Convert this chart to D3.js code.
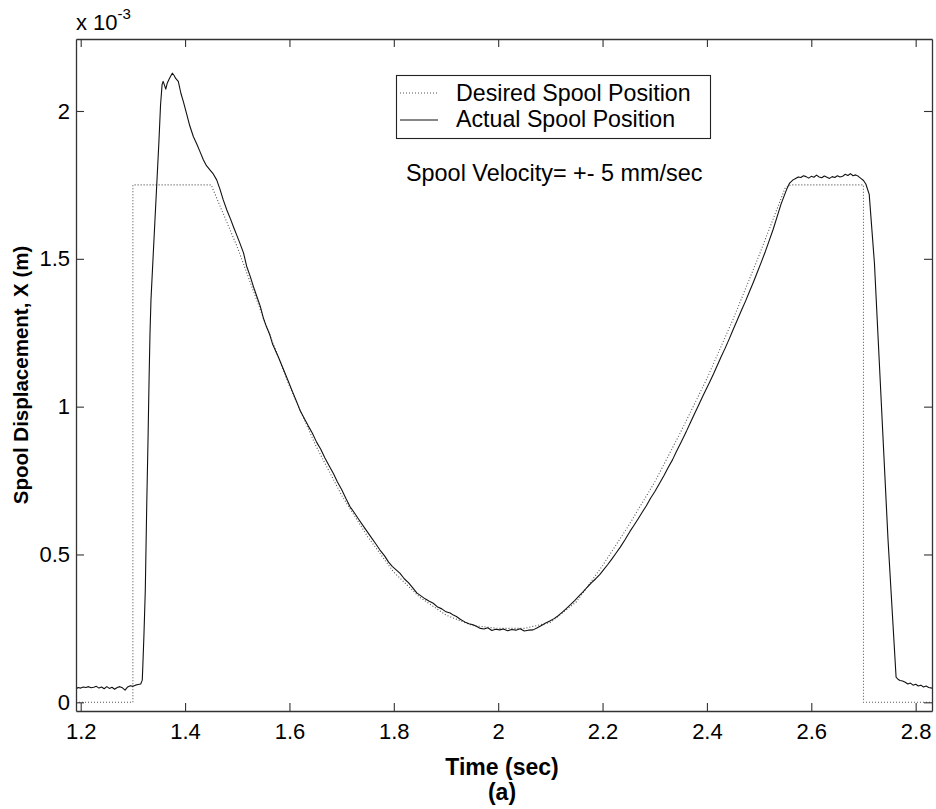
<!DOCTYPE html>
<html>
<head>
<meta charset="utf-8">
<script src="https://cdn.jsdelivr.net/npm/d3@7"></script>
<style>
  html, body { margin: 0; padding: 0; background: #fff; }
  svg { display: block; }
  text { font-family: "Liberation Sans", Arial, sans-serif; fill: #000; }
</style>
</head>
<body>
<svg id="chart" width="936" height="809"></svg>
<script>
// ---- data (time in s, displacement in units of 1e-3 m) ----
const xTicks = [1.2, 1.4, 1.6, 1.8, 2.0, 2.2, 2.4, 2.6, 2.8];
const xTickLabels = ["1.2", "1.4", "1.6", "1.8", "2", "2.2", "2.4", "2.6", "2.8"];
const yTicks = [0, 0.5, 1, 1.5, 2];
const yTickLabels = ["0", "0.5", "1", "1.5", "2"];
const xLim = [1.191, 2.8313];
const yLim = [-0.0294, 2.2435];

// Desired spool position: [time, displacement]
const desiredPoints = [
  [1.191, 0], [1.3, 0], [1.3, 1.75], [1.45, 1.75], [1.50, 1.54], [1.55, 1.30], [1.60, 1.07],
  [1.65, 0.87], [1.70, 0.70], [1.75, 0.56], [1.80, 0.44], [1.85, 0.355], [1.90, 0.295],
  [1.95, 0.26], [2.00, 0.25], [2.05, 0.25], [2.10, 0.27], [2.15, 0.34], [2.20, 0.462],
  [2.25, 0.598], [2.30, 0.745], [2.35, 0.915], [2.40, 1.095], [2.45, 1.295], [2.50, 1.512],
  [2.55, 1.74], [2.56, 1.75], [2.70, 1.75], [2.70, 0], [2.8313, 0]
];

// Actual spool position: [time, displacement]
const actualPoints = [
  [1.191, 0.045], [1.195, 0.050], [1.200, 0.048], [1.205, 0.052], [1.210, 0.050], [1.215, 0.053],
  [1.220, 0.049], [1.225, 0.051], [1.230, 0.054], [1.235, 0.048], [1.240, 0.052], [1.245, 0.046],
  [1.250, 0.053], [1.255, 0.047], [1.260, 0.051], [1.265, 0.044], [1.270, 0.050], [1.275, 0.053],
  [1.280, 0.049], [1.285, 0.041], [1.290, 0.052], [1.295, 0.056], [1.300, 0.054], [1.305, 0.058],
  [1.310, 0.060], [1.315, 0.062], [1.318, 0.075], [1.319, 0.12], [1.3213, 0.233], [1.3238, 0.38],
  [1.3265, 0.662], [1.329, 0.887], [1.331, 1.09], [1.3328, 1.248], [1.3347, 1.362], [1.338, 1.48],
  [1.342, 1.62], [1.346, 1.76], [1.350, 1.90], [1.353, 2.02], [1.356, 2.09], [1.358, 2.10],
  [1.361, 2.085], [1.363, 2.074], [1.366, 2.095], [1.370, 2.11], [1.3755, 2.128], [1.379, 2.12],
  [1.382, 2.11], [1.387, 2.10], [1.392, 2.06], [1.397, 2.03], [1.403, 1.99], [1.409, 1.95],
  [1.416, 1.913], [1.422, 1.89], [1.428, 1.865], [1.435, 1.835], [1.441, 1.815], [1.448, 1.80],
  [1.454, 1.787], [1.4606, 1.767], [1.467, 1.735], [1.473, 1.70], [1.480, 1.665], [1.487, 1.635],
  [1.493, 1.607], [1.499, 1.58], [1.505, 1.553], [1.512, 1.52], [1.518, 1.475], [1.525, 1.44],
  [1.531, 1.406], [1.537, 1.375], [1.544, 1.34], [1.550, 1.30], [1.556, 1.27], [1.562, 1.245],
  [1.568, 1.21], [1.5786, 1.169], [1.590, 1.12], [1.598, 1.085], [1.606, 1.05], [1.613, 1.02],
  [1.620, 0.989], [1.628, 0.962], [1.636, 0.935], [1.644, 0.91], [1.652, 0.88], [1.660, 0.856],
  [1.668, 0.826], [1.676, 0.80], [1.684, 0.775], [1.692, 0.745], [1.700, 0.72], [1.708, 0.69],
  [1.716, 0.662], [1.724, 0.642], [1.732, 0.621], [1.740, 0.60], [1.748, 0.58], [1.757, 0.557],
  [1.765, 0.537], [1.7735, 0.515], [1.782, 0.496], [1.790, 0.474], [1.797, 0.46], [1.805, 0.447],
  [1.812, 0.436], [1.820, 0.418], [1.828, 0.405], [1.836, 0.388], [1.844, 0.37], [1.852, 0.36],
  [1.860, 0.35], [1.868, 0.342], [1.8756, 0.335], [1.884, 0.322], [1.892, 0.316], [1.900, 0.306],
  [1.908, 0.302], [1.914, 0.295], [1.920, 0.29], [1.928, 0.28], [1.936, 0.272], [1.944, 0.266],
  [1.952, 0.262], [1.959, 0.256], [1.966, 0.25], [1.973, 0.248], [1.980, 0.252], [1.988, 0.243],
  [1.995, 0.247], [2.003, 0.245], [2.010, 0.248], [2.018, 0.242], [2.026, 0.246], [2.034, 0.244],
  [2.042, 0.249], [2.050, 0.241], [2.058, 0.244], [2.067, 0.245], [2.075, 0.252], [2.083, 0.26],
  [2.091, 0.268], [2.099, 0.275], [2.107, 0.283], [2.115, 0.293], [2.123, 0.305], [2.131, 0.318],
  [2.139, 0.331], [2.147, 0.345], [2.155, 0.36], [2.163, 0.374], [2.171, 0.39], [2.179, 0.405],
  [2.187, 0.418], [2.195, 0.433], [2.2014, 0.447], [2.210, 0.466], [2.218, 0.485], [2.226, 0.505],
  [2.234, 0.525], [2.243, 0.55], [2.2525, 0.578], [2.260, 0.598], [2.268, 0.62], [2.276, 0.643],
  [2.284, 0.665], [2.292, 0.69], [2.300, 0.712], [2.3107, 0.745], [2.318, 0.768], [2.326, 0.795],
  [2.334, 0.82], [2.342, 0.85], [2.350, 0.878], [2.361, 0.918], [2.368, 0.945], [2.376, 0.975],
  [2.384, 1.005], [2.392, 1.035], [2.3995, 1.062], [2.4058, 1.085], [2.413, 1.112], [2.420, 1.14],
  [2.427, 1.168], [2.435, 1.198], [2.443, 1.23], [2.4505, 1.262], [2.458, 1.292], [2.466, 1.325],
  [2.474, 1.357], [2.481, 1.387], [2.4888, 1.42], [2.496, 1.452], [2.504, 1.488], [2.512, 1.525],
  [2.519, 1.56], [2.527, 1.60], [2.535, 1.645], [2.542, 1.685], [2.5528, 1.735], [2.558, 1.755],
  [2.565, 1.767], [2.570, 1.772], [2.575, 1.777], [2.580, 1.775], [2.585, 1.781], [2.590, 1.778],
  [2.595, 1.773], [2.600, 1.779], [2.605, 1.776], [2.610, 1.783], [2.615, 1.777], [2.620, 1.774],
  [2.625, 1.780], [2.630, 1.776], [2.635, 1.772], [2.640, 1.778], [2.645, 1.775], [2.650, 1.781],
  [2.655, 1.777], [2.660, 1.779], [2.665, 1.786], [2.670, 1.782], [2.675, 1.788], [2.680, 1.781],
  [2.685, 1.784], [2.690, 1.779], [2.695, 1.772], [2.700, 1.765], [2.7045, 1.753], [2.711, 1.718],
  [2.721, 1.485], [2.734, 1.018], [2.747, 0.551], [2.7625, 0.085], [2.766, 0.078], [2.770, 0.074],
  [2.775, 0.072], [2.780, 0.068], [2.785, 0.062], [2.790, 0.065], [2.795, 0.058], [2.800, 0.061],
  [2.805, 0.055], [2.810, 0.058], [2.815, 0.052], [2.820, 0.055], [2.825, 0.050], [2.8313, 0.048]
];

const legendLabels = ["Desired Spool Position", "Actual Spool Position"];
const annotationText = "Spool Velocity= +- 5 mm/sec";
const xLabel = "Time (sec)";
const subLabel = "(a)";
const yLabel = "Spool Displacement, X (m)";

// ---- drawing ----
const svg = d3.select("#chart");
const box = { left: 76, right: 932, top: 39, bottom: 711 };
const x = d3.scaleLinear().domain(xLim).range([box.left, box.right]);
const y = d3.scaleLinear().domain(yLim).range([box.bottom, box.top]);

svg.append("rect").attr("width", 936).attr("height", 809).attr("fill", "#fff");

svg.append("defs").append("clipPath").attr("id", "clip")
  .append("rect").attr("x", box.left).attr("y", box.top)
  .attr("width", box.right - box.left).attr("height", box.bottom - box.top);

const line = d3.line().x(d => x(d[0])).y(d => y(d[1]));

const plot = svg.append("g").attr("clip-path", "url(#clip)");
plot.append("path").datum(desiredPoints).attr("d", line)
  .attr("fill", "none").attr("stroke", "#555").attr("stroke-width", 1.1)
  .attr("stroke-dasharray", "1,2");
plot.append("path").datum(actualPoints).attr("d", line)
  .attr("fill", "none").attr("stroke", "#111").attr("stroke-width", 1.1)
  .attr("stroke-linejoin", "round");

// axes (MATLAB style box with inward ticks)
const axisColor = "#333";
const fmtX = d => xTickLabels[xTicks.indexOf(d)];
const fmtY = d => yTickLabels[yTicks.indexOf(d)];

function styleAxis(g, fs) {
  g.select(".domain").attr("stroke", axisColor).attr("stroke-width", 1.3);
  g.selectAll(".tick line").attr("stroke", axisColor).attr("stroke-width", 1.1);
  g.selectAll(".tick text").attr("font-size", fs)
    .attr("font-family", '"Liberation Sans", Arial, sans-serif').attr("fill", "#000");
}

const gx = svg.append("g").attr("transform", `translate(0,${box.bottom})`)
  .call(d3.axisBottom(x).tickValues(xTicks).tickFormat(fmtX).tickSize(-8).tickSizeOuter(0).tickPadding(12));
styleAxis(gx, 22);

const gxt = svg.append("g").attr("transform", `translate(0,${box.top})`)
  .call(d3.axisTop(x).tickValues(xTicks).tickFormat(() => "").tickSize(-8).tickSizeOuter(0));
styleAxis(gxt, 22);

const gy = svg.append("g").attr("transform", `translate(${box.left},0)`)
  .call(d3.axisLeft(y).tickValues(yTicks).tickFormat(fmtY).tickSize(-8).tickSizeOuter(0).tickPadding(6));
styleAxis(gy, 22);

const gyr = svg.append("g").attr("transform", `translate(${box.right},0)`)
  .call(d3.axisRight(y).tickValues(yTicks).tickFormat(() => "").tickSize(-8).tickSizeOuter(0));
styleAxis(gyr, 22);

// exponent label
const expo = svg.append("text").attr("x", box.left).attr("y", 30).attr("font-size", 22);
expo.append("tspan").text("x 10");
expo.append("tspan").attr("dy", -11).attr("font-size", 15).text("-3");

// axis labels
svg.append("text").attr("x", (box.left + box.right) / 2 - 2).attr("y", 775)
  .attr("text-anchor", "middle").attr("font-size", 23).attr("font-weight", "bold").text(xLabel);
svg.append("text").attr("x", (box.left + box.right) / 2 - 2).attr("y", 800)
  .attr("text-anchor", "middle").attr("font-size", 23).attr("font-weight", "bold").text(subLabel);
svg.append("text").attr("transform", `translate(28,${(box.top + box.bottom) / 2}) rotate(-90)`)
  .attr("text-anchor", "middle").attr("font-size", 20.5).attr("font-weight", "bold").text(yLabel);

// legend
const lg = svg.append("g");
lg.append("rect").attr("x", 396.5).attr("y", 75.5).attr("width", 314).attr("height", 63)
  .attr("fill", "#fff").attr("stroke", "#222").attr("stroke-width", 1.1);
const legendStyles = [
  { stroke: "#555", dash: "1,2", ly: 93 },
  { stroke: "#111", dash: null, ly: 120 }
];
legendLabels.forEach((lab, i) => {
  const s = legendStyles[i];
  const ln = lg.append("line").attr("x1", 400).attr("x2", 438).attr("y1", s.ly).attr("y2", s.ly)
    .attr("stroke", s.stroke).attr("stroke-width", 1.1);
  if (s.dash) ln.attr("stroke-dasharray", s.dash);
  lg.append("text").attr("x", 456).attr("y", 101 + i * 26).attr("font-size", 23.2).text(lab);
});

// annotation
svg.append("text").attr("x", 406).attr("y", 181).attr("font-size", 23.4).text(annotationText);
</script>
</body>
</html>
